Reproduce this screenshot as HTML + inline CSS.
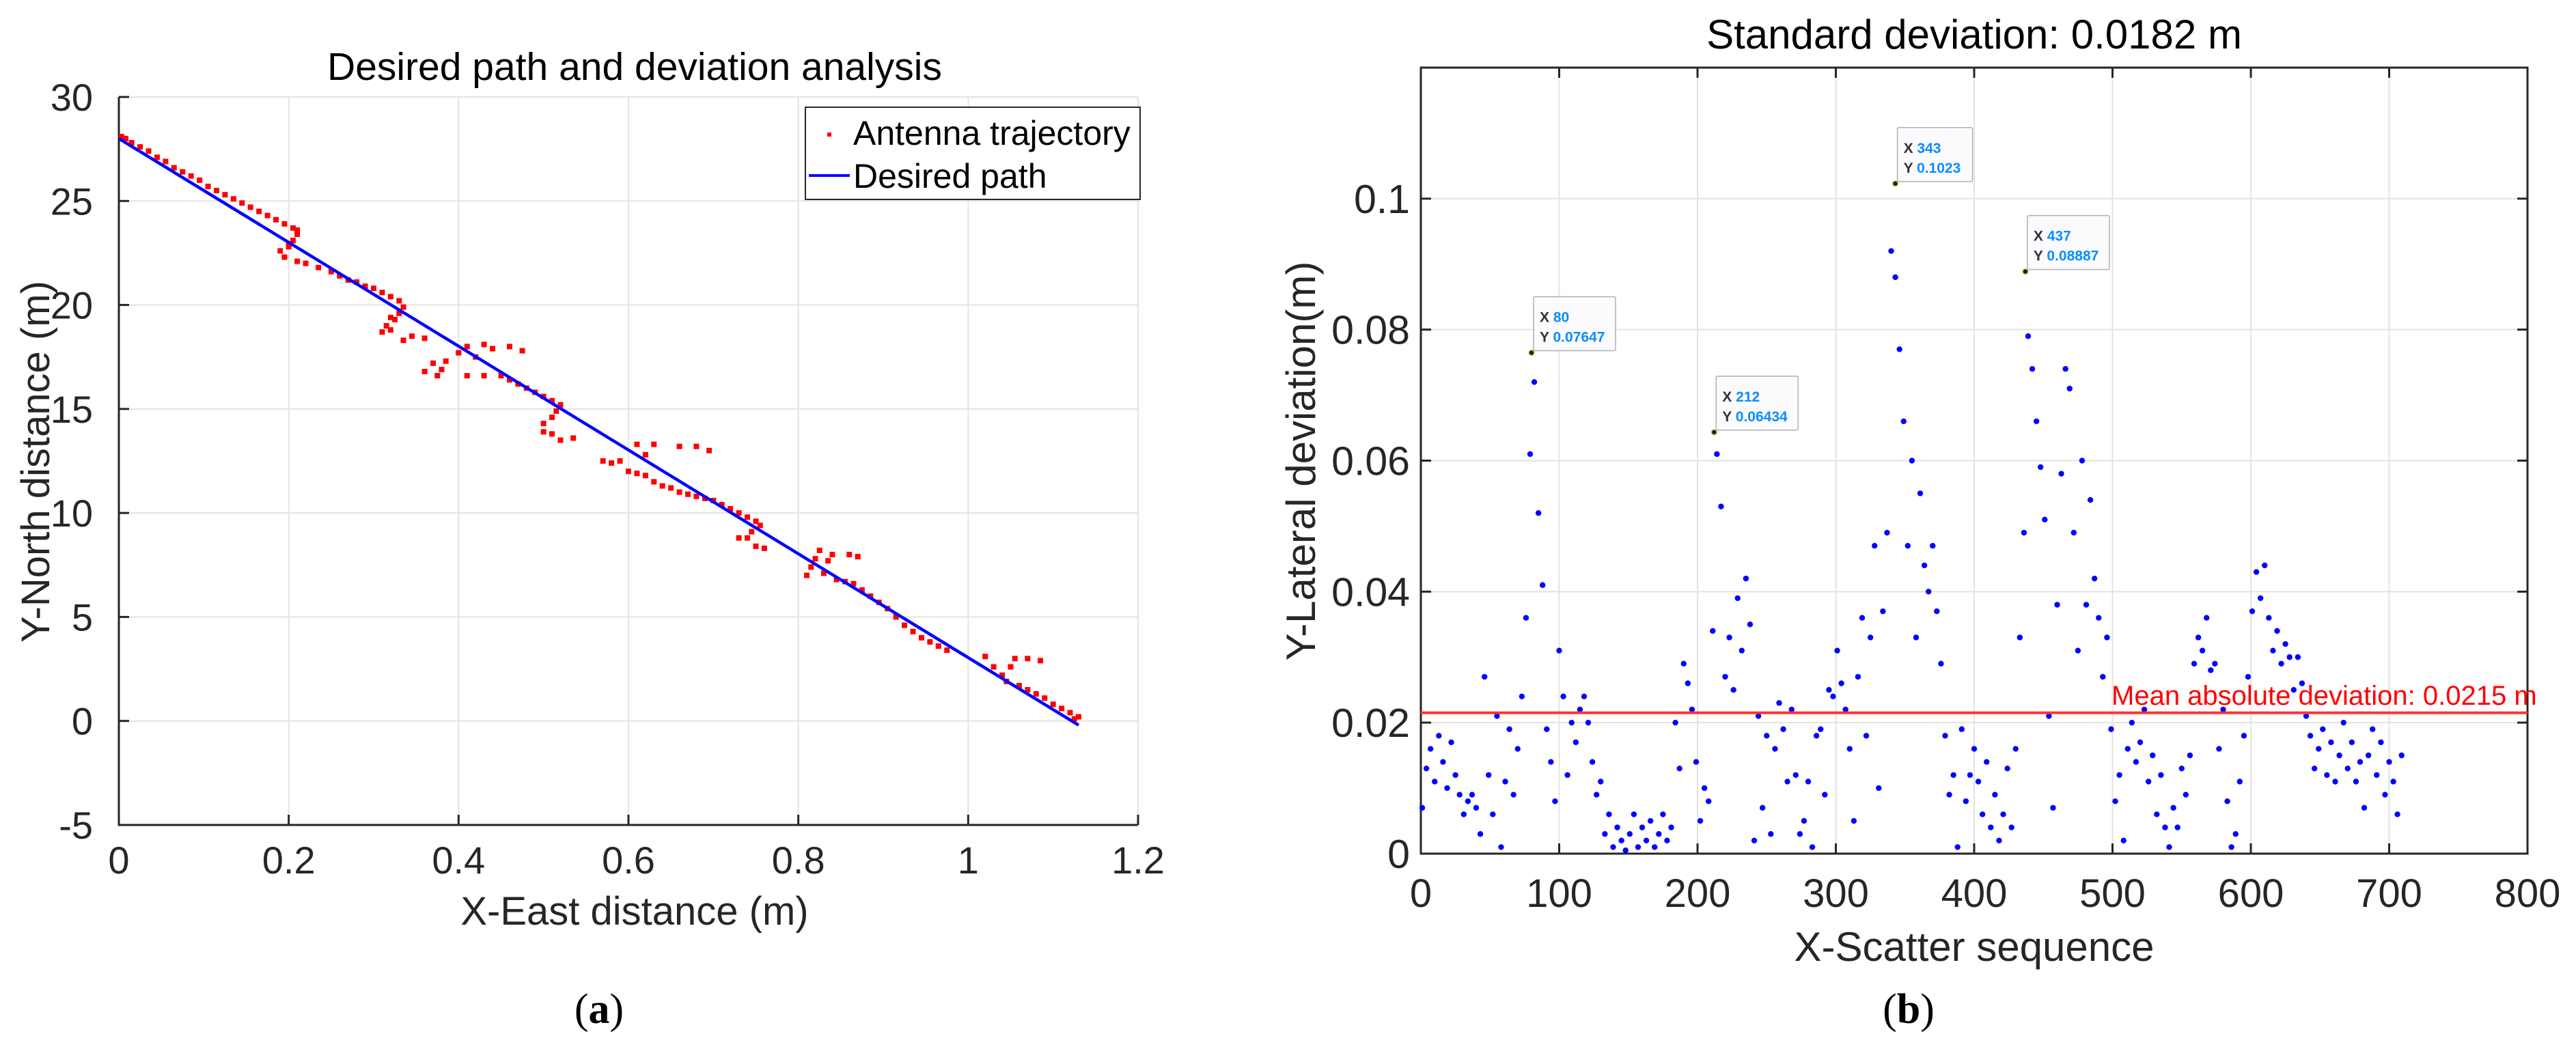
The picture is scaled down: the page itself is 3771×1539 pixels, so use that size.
<!DOCTYPE html>
<html><head><meta charset="utf-8"><style>
html,body{margin:0;padding:0;background:#fff}
svg{display:block}
text{font-family:"Liberation Sans",Arial,sans-serif;fill:#262626}
</style></head><body>
<svg id="fig" width="3771" height="1539" viewBox="0 0 3771 1539" xmlns="http://www.w3.org/2000/svg">
<g id="A"></g>
<g id="B"></g>
</svg>
<script>
// ---------- Chart (a) data ----------
const xTicksA = [0, 0.2, 0.4, 0.6, 0.8, 1, 1.2];
const xTickLabelsA = ["0", "0.2", "0.4", "0.6", "0.8", "1", "1.2"];
const yTicksA = [-5, 0, 5, 10, 15, 20, 25, 30];
const yTickLabelsA = ["-5", "0", "5", "10", "15", "20", "25", "30"];
const pathX = [0, 1.13];
const pathY = [28, -0.2];
const trajX = [0.003,0.008,0.015,0.025,0.035,0.045,0.055,0.065,0.075,0.085,0.095,0.105,0.115,0.125,0.135,0.145,0.155,0.165,0.175,0.185,0.195,0.205,0.21,0.205,0.2,0.19,0.195,0.2,0.21,
0.21,0.22,0.235,0.25,0.26,0.27,0.28,0.29,0.3,0.31,0.32,0.33,0.335,0.33,0.32,0.315,0.31,0.32,0.325,
0.335,0.345,0.36,0.37,0.375,0.38,0.385,0.4,0.41,0.42,0.43,0.44,0.46,0.475,0.41,0.43,0.36,
0.45,0.46,0.47,0.48,0.49,0.5,0.51,0.52,0.515,0.51,0.5,0.5,0.51,0.52,0.535,
0.57,0.58,0.59,0.6,0.61,0.62,0.63,0.66,0.68,0.695,0.61,0.62,0.63,0.64,0.65,0.66,0.67,0.68,0.69,0.7,
0.71,0.72,0.73,0.74,0.75,0.755,0.745,0.74,0.73,0.75,0.76,
0.81,0.815,0.82,0.825,0.835,0.84,0.86,0.87,0.83,0.845,0.855,0.865,0.875,0.885,0.895,0.905,0.915,0.925,0.935,0.945,0.955,0.965,0.975,
1.02,1.03,1.04,1.045,1.05,1.055,1.07,1.085,1.06,1.07,1.08,1.09,1.1,1.11,1.12,1.13,1.125];
const trajY = [28.1,28.0,27.8,27.6,27.4,27.1,26.9,26.6,26.4,26.2,26.0,25.7,25.5,25.3,25.1,24.9,24.7,24.5,24.3,24.1,23.9,23.7,23.4,23.1,22.8,22.6,22.3,22.9,23.6,
22.1,22.0,21.8,21.6,21.4,21.2,21.1,20.9,20.8,20.6,20.4,20.2,19.9,19.6,19.4,19.0,18.7,18.8,19.3,
18.3,18.5,18.4,17.2,16.6,16.9,17.3,17.7,18.0,17.5,18.1,17.9,18.0,17.8,16.6,16.6,16.8,
16.6,16.4,16.2,16.0,15.8,15.6,15.4,15.2,14.9,14.6,14.3,13.9,13.8,13.5,13.6,
12.5,12.4,12.5,12.0,13.3,12.8,13.3,13.2,13.2,13.0,11.9,11.8,11.5,11.3,11.2,11.0,10.9,10.8,10.7,10.6,
10.4,10.2,10.0,9.8,9.6,9.4,9.1,8.8,8.8,8.4,8.3,
7.0,7.4,7.8,8.2,7.7,8.0,8.0,7.9,7.1,6.8,6.7,6.6,6.3,6.0,5.7,5.4,5.0,4.6,4.3,4.0,3.8,3.6,3.4,
3.1,2.6,2.2,1.9,2.6,3.0,3.0,2.9,1.7,1.5,1.3,1.1,0.8,0.6,0.4,0.2,0.1];

// ---------- Chart (b) data ----------
const xTicksB = [0,100,200,300,400,500,600,700,800];
const xTickLabelsB = ["0","100","200","300","400","500","600","700","800"];
const yTicksB = [0,0.02,0.04,0.06,0.08,0.1];
const yTickLabelsB = ["0","0.02","0.04","0.06","0.08","0.1"];
const seqStart = 1, seqStep = 3;
const devValues = [0.007,0.013,0.016,0.011,0.018,0.014,0.010,0.017,0.012,0.009,
0.006,0.008,0.009,0.007,0.003,0.027,0.012,0.006,0.021,0.001,
0.011,0.019,0.009,0.016,0.024,0.036,0.061,0.072,0.052,0.041,
0.019,0.014,0.008,0.031,0.024,0.012,0.02,0.017,0.022,0.024,
0.02,0.014,0.009,0.011,0.003,0.006,0.001,0.004,0.002,0.0005,
0.003,0.006,0.001,0.004,0.002,0.005,0.001,0.003,0.006,0.002,
0.004,0.02,0.013,0.029,0.026,0.022,0.014,0.005,0.01,0.008,
0.034,0.061,0.053,0.027,0.033,0.025,0.039,0.031,0.042,0.035,
0.002,0.021,0.007,0.018,0.003,0.016,0.023,0.019,0.011,0.022,
0.012,0.003,0.005,0.011,0.001,0.018,0.019,0.009,0.025,0.024,
0.031,0.026,0.022,0.016,0.005,0.027,0.036,0.018,0.033,0.047,
0.01,0.037,0.049,0.092,0.088,0.077,0.066,0.047,0.06,0.033,
0.055,0.044,0.04,0.047,0.037,0.029,0.018,0.009,0.012,0.001,
0.019,0.008,0.012,0.016,0.011,0.006,0.014,0.004,0.009,0.002,
0.006,0.013,0.004,0.016,0.033,0.049,0.079,0.074,0.066,0.059,
0.051,0.021,0.007,0.038,0.058,0.074,0.071,0.049,0.031,0.06,
0.038,0.054,0.042,0.036,0.027,0.033,0.019,0.008,0.012,0.002,
0.016,0.02,0.014,0.017,0.022,0.011,0.015,0.006,0.012,0.004,
0.001,0.007,0.004,0.013,0.009,0.015,0.029,0.033,0.031,0.036,
0.028,0.029,0.016,0.022,0.008,0.001,0.003,0.011,0.018,0.027,
0.037,0.043,0.039,0.044,0.036,0.031,0.034,0.029,0.032,0.03,
0.025,0.03,0.026,0.021,0.018,0.013,0.016,0.019,0.012,0.017,
0.011,0.015,0.02,0.013,0.017,0.011,0.014,0.007,0.015,0.019,
0.012,0.017,0.009,0.014,0.011,0.006,0.015];
const tipX = [80, 212, 343, 437];
const tipY = [0.07647, 0.06434, 0.1023, 0.08887];
const tipXLabels = ["80","212","343","437"];
const tipYLabels = ["0.07647","0.06434","0.1023","0.08887"];
const meanDev = 0.0215;

const NS = "http://www.w3.org/2000/svg";
function mk(parent, tag, attrs, txt){
  const e = document.createElementNS(NS, tag);
  for (const k in attrs) e.setAttribute(k, attrs[k]);
  if (txt !== undefined) e.textContent = txt;
  parent.appendChild(e);
  return e;
}

// ===== Chart A =====
const A = document.getElementById('A');
const aL=174, aR=1666, aT=142, aB=1208;
const ax = v => aL + (v - 0) / 1.2 * (aR - aL);
const ay = v => aB - (v + 5) / 35 * (aB - aT);
xTicksA.forEach((t,i)=>{
  if (i>0){ const g = mk(A,'line',{x1:ax(t),x2:ax(t),y1:aT,y2:aB,stroke:'#e3e3e3','stroke-width':2});
  
   }
  const tk = mk(A,'line',{x1:ax(t),x2:ax(t),y1:aB,y2:aB-15,stroke:'#262626','stroke-width':3});
  
  
  const lb = mk(A,'text',{x:ax(t),y:1279,'font-size':56,'text-anchor':'middle'},xTickLabelsA[i]);
  
  
});
yTicksA.forEach((t,i)=>{
  if (i>0){ const g = mk(A,'line',{x1:aL,x2:aR,y1:ay(t),y2:ay(t),stroke:'#e3e3e3','stroke-width':2});
  
   }
  const tk = mk(A,'line',{x1:aL,x2:aL+15,y1:ay(t),y2:ay(t),stroke:'#262626','stroke-width':3});
  
  
  const lb = mk(A,'text',{x:136,y:ay(t)+20,'font-size':56,'text-anchor':'end'},yTickLabelsA[i]);
  
  
});
const axA = mk(A,'path',{d:`M${aL} ${aT}V${aB}H${aR}`,fill:'none',stroke:'#262626','stroke-width':3});


trajX.forEach((x,i)=>{
  const r = mk(A,'rect',{x:ax(x)-4,y:ay(trajY[i])-4,width:8,height:8,fill:'#ff0000'});
  
  
});
const pl = mk(A,'line',{x1:ax(pathX[0]),y1:ay(pathY[0]),x2:ax(pathX[1]),y2:ay(pathY[1]),stroke:'#0000ff','stroke-width':4.5});


</script>
<script>
(function(){
const A = document.getElementById('A');
A.insertAdjacentHTML('beforeend', `
<text x="929" y="117" font-size="57" text-anchor="middle" style="fill:#000">Desired path and deviation analysis</text>
<text x="929" y="1354" font-size="58" text-anchor="middle">X-East distance (m)</text>
<text x="0" y="0" font-size="58" text-anchor="middle" transform="translate(72,676) rotate(-90)">Y-North distance (m)</text>
<g>
<rect x="1179" y="157" width="490" height="135" fill="#fff" stroke="#262626" stroke-width="2"/>
<rect x="1211" y="194" width="6" height="6" fill="#ff0000"/>
<text x="1249" y="212" font-size="50" style="fill:#000">Antenna trajectory</text>
<line x1="1184" x2="1244" y1="257" y2="257" stroke="#0000ff" stroke-width="4"/>
<text x="1249" y="275" font-size="50" style="fill:#000">Desired path</text>
</g>
<text x="877" y="1498" font-size="62" text-anchor="middle" style="font-family:'Liberation Serif',serif;fill:#000">(<tspan font-weight="bold">a</tspan>)</text>
`);
})();
</script>
<script>
// ===== Chart B =====
const B = document.getElementById('B');
const bL=2080, bR=3700, bT=99, bB=1250;
const bx = v => bL + v / 800 * (bR - bL);
const by = v => bB - v / 0.12 * (bB - bT);
xTicksB.forEach((t,i)=>{
  if (i>0 && i<xTicksB.length-1){ const g = mk(B,'line',{x1:bx(t),x2:bx(t),y1:bT,y2:bB,stroke:'#e3e3e3','stroke-width':2});
  
   }
  const tk = mk(B,'path',{d:`M${bx(t)} ${bB}v-15M${bx(t)} ${bT}v15`,stroke:'#262626','stroke-width':3});
  
  
  const lb = mk(B,'text',{x:bx(t),y:1328,'font-size':58,'text-anchor':'middle'},xTickLabelsB[i]);
  
  
});
yTicksB.forEach((t,i)=>{
  if (i>0){ const g = mk(B,'line',{x1:bL,x2:bR,y1:by(t),y2:by(t),stroke:'#e3e3e3','stroke-width':2});
  
   }
  const tk = mk(B,'path',{d:`M${bL} ${by(t)}h15M${bR} ${by(t)}h-15`,stroke:'#262626','stroke-width':3});
  
  
  const lb = mk(B,'text',{x:2064,y:by(t)+21,'font-size':59,'text-anchor':'end'},yTickLabelsB[i]);
  
  
});
const boxB = mk(B,'rect',{x:bL,y:bT,width:bR-bL,height:bB-bT,fill:'none',stroke:'#262626','stroke-width':3});


devValues.forEach((v,i)=>{
  const c = mk(B,'circle',{cx:bx(seqStart+i*seqStep),cy:by(v),r:4.2,fill:'#0000ff'});
  
  
});
const ml = mk(B,'line',{x1:bL,x2:bR,y1:by(meanDev),y2:by(meanDev),stroke:'#ff3333','stroke-width':4});


const mt = mk(B,'text',{x:3091,y:by(meanDev)-12,'font-size':40,style:'fill:#ff0000'},'Mean absolute deviation: '+meanDev+' m');


tipX.forEach((x,i)=>{
  const px = bx(x), py = by(tipY[i]);
  const w = tipYLabels[i].length > 6 ? 120 : 110;
  const g = mk(B,'g',{});
  
  
  mk(g,'rect',{x:px+3,y:py-82,width:w,height:79,fill:'#fbfbfe',stroke:'#b0b0b0','stroke-width':1.5,rx:2});
  const t1 = mk(g,'text',{x:px+12,y:py-45,'font-size':21,'font-weight':'bold'});
  mk(t1,'tspan',{style:'fill:#333'},'X ');
  mk(t1,'tspan',{style:'fill:#0a8cff'},tipXLabels[i]);
  const t2 = mk(g,'text',{x:px+12,y:py-16,'font-size':21,'font-weight':'bold'});
  mk(t2,'tspan',{style:'fill:#333'},'Y ');
  mk(t2,'tspan',{style:'fill:#0a8cff'},tipYLabels[i]);
  const d = mk(B,'circle',{cx:px,cy:py,r:4,fill:'#222',stroke:'#cccc66','stroke-width':1.5});
  
  
});
B.insertAdjacentHTML('beforeend', `
<text x="2890" y="71" font-size="60" text-anchor="middle" style="fill:#000">Standard deviation: 0.0182 m</text>
<text x="2890" y="1407" font-size="60" text-anchor="middle">X-Scatter sequence</text>
<text x="0" y="0" font-size="60" text-anchor="middle" transform="translate(1925,675) rotate(-90)">Y-Lateral deviation(m)</text>
<text x="2794" y="1498" font-size="62" text-anchor="middle" style="font-family:'Liberation Serif',serif;fill:#000">(<tspan font-weight="bold">b</tspan>)</text>
`);
</script>
</body></html>
